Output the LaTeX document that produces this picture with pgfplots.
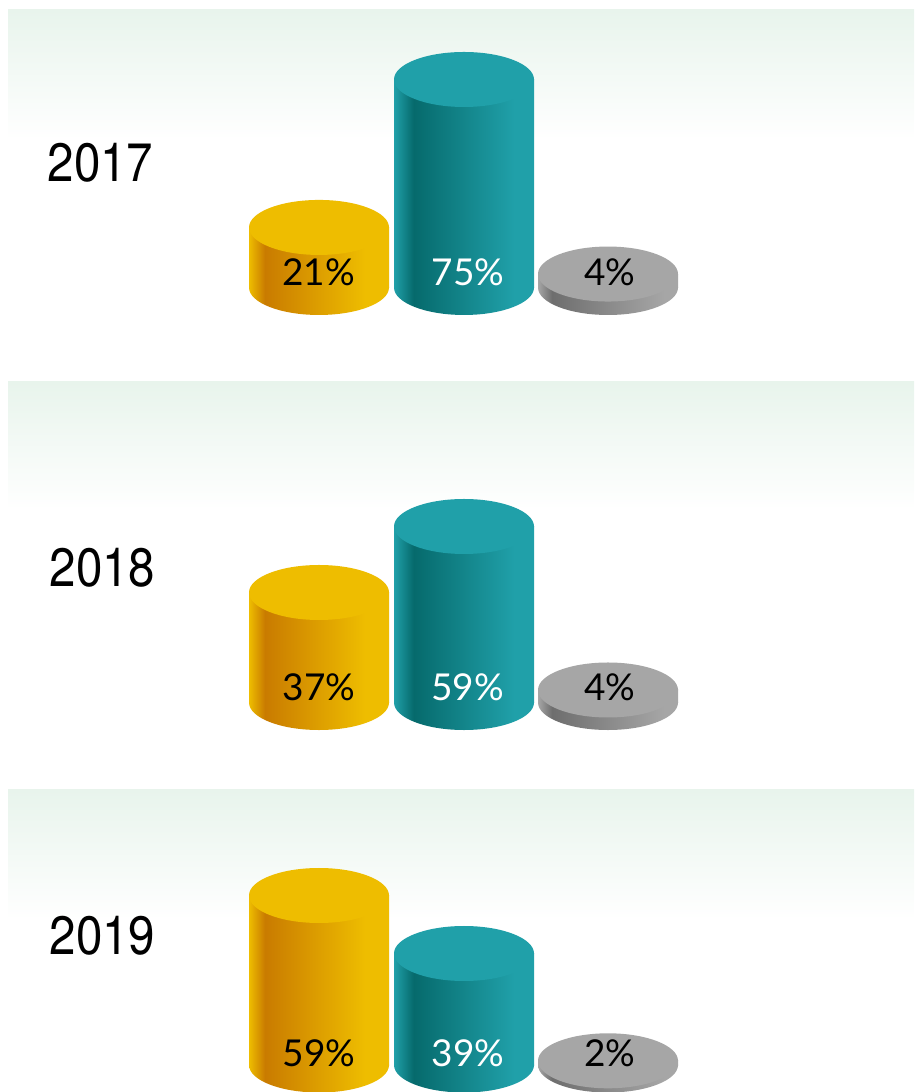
\documentclass[border=0pt]{standalone}
\usepackage{fontspec}
\usepackage{pgfplots}
\pgfplotsset{compat=1.18}
\setmainfont{TeX Gyre Heros}
\newfontfamily\lightf{Lato}
\definecolor{goldL}{HTML}{EEBD00}\definecolor{goldD}{HTML}{C97B00}
\definecolor{tealL}{HTML}{20A0A9}\definecolor{tealD}{HTML}{066A6C}
\definecolor{greyL}{HTML}{A6A6A6}\definecolor{greyD}{HTML}{6E6E6E}
\definecolor{bandc}{HTML}{E8F4EC}
\pgfdeclarehorizontalshading{goldgrad}{100bp}{color(0bp)=(goldL);color(25bp)=(goldL);color(30.7bp)=(goldD);color(66.5bp)=(goldL);color(100bp)=(goldL)}
\pgfdeclarehorizontalshading{tealgrad}{100bp}{color(0bp)=(tealL);color(25bp)=(tealL);color(32bp)=(tealD);color(68bp)=(tealL);color(100bp)=(tealL)}
\pgfdeclarehorizontalshading{greygrad}{100bp}{color(0bp)=(greyL);color(25bp)=(greyL);color(30bp)=(greyD);color(70bp)=(greyL);color(100bp)=(greyL)}
\pgfdeclareplotmark{capE}{\pgfpathellipse{\pgfpointorigin}{\pgfqpoint{70pt}{0pt}}{\pgfqpoint{0pt}{27.5pt}}\pgfusepathqfill}
\pgfdeclareplotmark{basegold}{\pgfpathellipse{\pgfpointorigin}{\pgfqpoint{70pt}{0pt}}{\pgfqpoint{0pt}{27.5pt}}\pgfshadepath{goldgrad}{0}\pgfusepath{discard}}
\pgfdeclareplotmark{baseteal}{\pgfpathellipse{\pgfpointorigin}{\pgfqpoint{70pt}{0pt}}{\pgfqpoint{0pt}{27.5pt}}\pgfshadepath{tealgrad}{0}\pgfusepath{discard}}
\pgfdeclareplotmark{basegrey}{\pgfpathellipse{\pgfpointorigin}{\pgfqpoint{70pt}{0pt}}{\pgfqpoint{0pt}{27.5pt}}\pgfshadepath{greygrad}{0}\pgfusepath{discard}}
% #1 left x, #2 value, #3 series name
\newcommand\cyl[3]{%
  \addplot[only marks,mark=base#3] coordinates {(#1+70,\base)};
  \addplot[draw=none,shading=#3grad] coordinates {(#1,\base)(#1,#2)(#1+140,#2)(#1+140,\base)} --cycle;
  \addplot[only marks,mark=capE,mark options={draw=none,fill=#3L}] coordinates {(#1+70,#2)};
}
\pgfplotsset{panel/.style={anchor=south west,scale only axis,width=914pt,hide axis,clip=false,
  xmin=0,xmax=914,ymin=0,ymax=100}}
\newcommand\lab[4][black]{\node[text=#1,font=\lightf\fontsize{37}{37}\selectfont,inner sep=0pt,anchor=center] at (#2,{1092-#3}) {#4};}
\newcommand\yr[3]{\node[xscale=.88,font=\fontsize{54}{54}\selectfont,inner sep=0pt,anchor=center] at (#1,{1092-#2}) {#3};}
\newcommand\band[2]{\shade[top color=bandc,bottom color=white] (8,{1092-#1}) rectangle (914,{1092-#2});}
\begin{document}
\begin{tikzpicture}[x=1pt,y=1pt]
\useasboundingbox (0,0.7) rectangle (914,1092.7);
\fill[white] (0,0) rectangle (914,1093);
\band{9}{139}\band{381}{509}\band{789}{919}
% 2017: base px 287, offset 2.5, scale 2.74 px per percent
\begin{axis}[panel,height=274pt,at={(0pt,807.7pt)}]
\def\base{-0.91}
\cyl{249}{21}{gold}\cyl{394}{75}{teal}\cyl{538}{4}{grey}
\end{axis}
% 2018: base px 702.5, offset -1, scale 3
\begin{axis}[panel,height=300pt,at={(0pt,389.2pt)}]
\def\base{0.33}
\cyl{249}{37}{gold}\cyl{394}{59}{teal}\cyl{538}{4.5}{grey}
\end{axis}
% 2019: base px 1065, offset -1.6, scale 2.9
\begin{axis}[panel,height=290pt,at={(0pt,26.1pt)}]
\def\base{0.55}
\cyl{249}{59}{gold}\cyl{394}{39}{teal}\cyl{538}{2}{grey}
\end{axis}
\yr{100.5}{162}{2017}\yr{102.5}{567}{2018}\yr{102.5}{935}{2019}
\lab{318.5}{272}{21\%}\lab[white]{468}{272}{75\%}\lab{610}{272}{4\%}
\lab{319}{687}{37\%}\lab[white]{467.5}{687}{59\%}\lab{610}{687}{4\%}
\lab{319}{1053}{59\%}\lab[white]{468}{1053}{39\%}\lab{610}{1053}{2\%}
\end{tikzpicture}
\end{document}
